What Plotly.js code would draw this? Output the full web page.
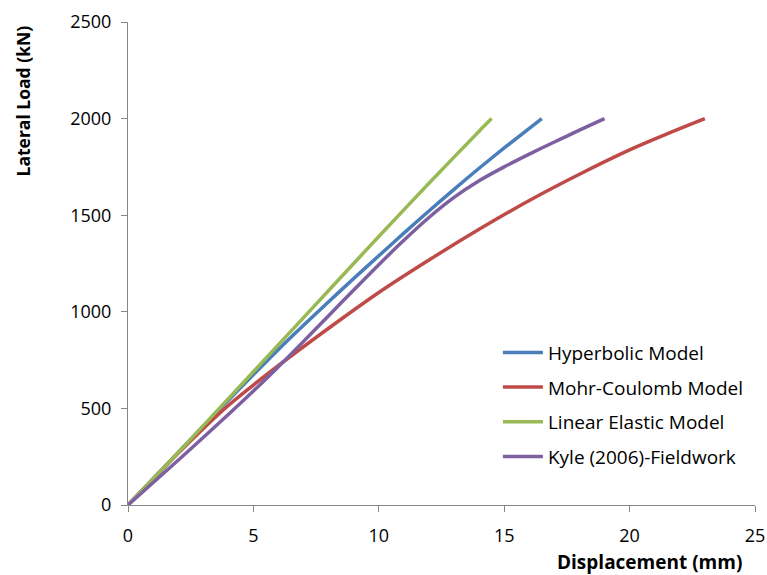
<!DOCTYPE html>
<html>
<head>
<meta charset="utf-8">
<script src="https://cdn.plot.ly/plotly-3.0.1.min.js"></script>
<style>html,body{margin:0;padding:0;background:#fff;}#chart{width:767px;height:575px;}</style>
</head>
<body>
<div id="chart"></div>
<script>
// Data
const seriesNames = ["Hyperbolic Model", "Mohr-Coulomb Model", "Linear Elastic Model", "Kyle (2006)-Fieldwork"];

const hypX = [0, 2, 4, 6, 7, 8, 9, 10, 11, 12, 13, 14, 15, 16.5];
const hypY = [0, 272, 542, 805, 930, 1052, 1172, 1290, 1407, 1522, 1634, 1743, 1848, 2000];

const mcX = [0, 2, 4, 6, 8, 10, 12, 14, 16, 18, 20, 22, 23];
const mcY = [0, 268, 515, 722, 915, 1100, 1268, 1427, 1576, 1712, 1838, 1948, 2000];

const leX = [0, 2, 4, 6, 8, 10, 12, 14, 14.5];
const leY = [0, 272, 550, 830, 1110, 1390, 1665, 1935, 2000];

const kyX = [0, 2, 4, 5, 6, 7, 8, 9, 10, 11, 12, 13, 14, 15, 16, 17, 18, 19];
const kyY = [0, 232, 468, 590, 716, 847, 980, 1113, 1244, 1370, 1488, 1592, 1678, 1750, 1816, 1879, 1940, 2000];

const colors = ["#4A7EBB", "#BE4B48", "#98B954", "#7D60A0"];
const xs = [hypX, mcX, leX, kyX];
const ys = [hypY, mcY, leY, kyY];

const traces = seriesNames.map((n, i) => ({
  x: xs[i], y: ys[i], name: n, type: "scatter", mode: "lines",
  legendgroup: "g" + i,
  line: {color: colors[i], width: 3.5, shape: "spline", smoothing: 0.7},
  hoverinfo: "skip"
}));

const fontFam = "'Open Sans', 'Liberation Sans', sans-serif";

const layout = {
  width: 767, height: 575,
  margin: {l: 128, r: 12, t: 22, b: 70},
  paper_bgcolor: "#fff", plot_bgcolor: "#fff",
  font: {family: fontFam, color: "#000", size: 18},
  showlegend: true,
  legend: {
    x: 0.59, y: 0.355, xanchor: "left", yanchor: "top",
    traceorder: "grouped", tracegroupgap: 7,
    itemwidth: 40,
    font: {family: fontFam, size: 19, color: "#000"},
    bgcolor: "rgba(255,255,255,0)"
  },
  xaxis: {
    range: [0, 25], dtick: 5, tick0: 0,
    showgrid: false, zeroline: false,
    showline: true, linecolor: "#868686", linewidth: 1,
    ticks: "outside", ticklen: 6, tickcolor: "#868686",
    ticklabelstandoff: 8,
    tickfont: {family: fontFam, size: 18, color: "#000"},
    fixedrange: true
  },
  yaxis: {
    range: [0, 2500], dtick: 500, tick0: 0,
    showgrid: false, zeroline: false,
    showline: true, linecolor: "#868686", linewidth: 1,
    ticks: "outside", ticklen: 6, tickcolor: "#868686",
    ticklabelstandoff: 6,
    tickfont: {family: fontFam, size: 18, color: "#000"},
    fixedrange: true
  },
  annotations: [
    {text: "<b>Lateral Load (kN)</b>", xref: "paper", yref: "paper",
     x: -0.167, y: 0.836, textangle: -90, showarrow: false,
     xanchor: "center", yanchor: "middle",
     font: {family: fontFam, size: 17.5, color: "#000"}},
    {text: "<b>Displacement (mm)</b>", xref: "paper", yref: "paper",
     x: 0.831, y: -0.118, showarrow: false,
     xanchor: "center", yanchor: "middle",
     font: {family: fontFam, size: 19, color: "#000"}}
  ]
};

Plotly.newPlot("chart", traces, layout, {displayModeBar: false, staticPlot: true});
</script>
</body>
</html>
